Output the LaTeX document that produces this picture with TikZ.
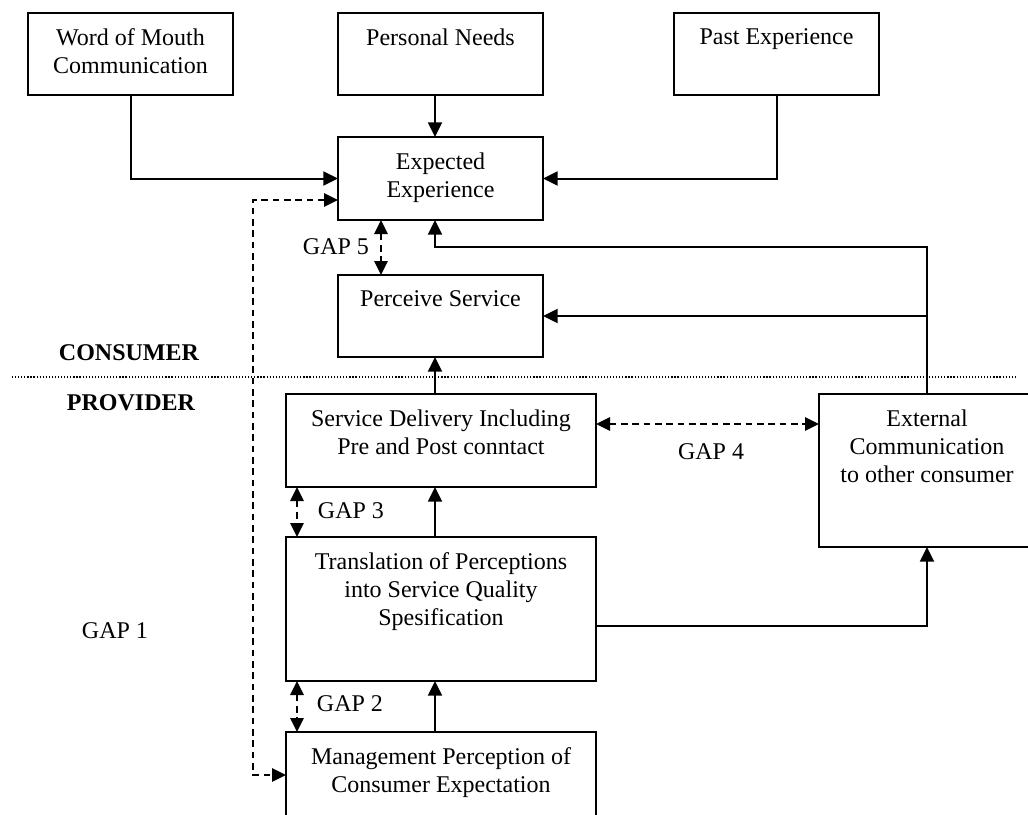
\documentclass[tikz,border=0pt]{standalone}
\usepackage{fontspec}
\setmainfont{Liberation Serif}
\usetikzlibrary{arrows.meta}
\begin{document}
\begin{tikzpicture}[x=0.75pt,y=-0.75pt,
  box/.style={draw, line width=1.4pt, inner sep=0pt, outer sep=0pt},
  txt/.style={font=\fontsize{18}{21}\selectfont, align=center, inner sep=0pt},
  blabel/.style={label={[txt,anchor=north,yshift=-11.6pt]north:#1}},
  arr/.style={line width=1.5pt, -{Triangle[length=11pt,width=10.5pt]}},
  dsh/.style={line width=1.5pt, dash pattern=on 5pt off 3.5pt},
  tiptwo/.style={{Triangle[length=10.5pt,width=10pt]}-{Triangle[length=10.5pt,width=10pt]}},
  dotline/.style={line width=0.9pt, dash pattern=on 0.9pt off 1.4pt},
  head/.style={font=\fontsize{18}{21}\selectfont\bfseries, inner sep=0pt, anchor=base},
  gap/.style={font=\fontsize{18}{21}\selectfont, inner sep=0pt, anchor=base}]
\useasboundingbox (0,0) rectangle (1028,814);
\clip (0,0) rectangle (1028,814);

% boxes
\node[box, minimum width=153.75pt, minimum height=61.5pt, blabel={Word of Mouth\\Communication}] (wom) at (130.5,54) {};
\node[box, minimum width=153.75pt, minimum height=61.5pt, blabel={Personal Needs}] (pn) at (440.5,54) {};
\node[box, minimum width=153.75pt, minimum height=61.5pt, blabel={Past Experience}] (pe) at (776.5,54) {};
\node[box, minimum width=153.75pt, minimum height=62.25pt, blabel={Expected\\Experience}] (ee) at (440.5,178.5) {};
\node[box, minimum width=153.75pt, minimum height=61.5pt, blabel={Perceive Service}] (ps) at (440.5,316) {};
\node[box, minimum width=232.5pt, minimum height=69.75pt, blabel={Service Delivery Including\\Pre and Post conntact}] (sd) at (441,440.5) {};
\node[box, minimum width=232.5pt, minimum height=108pt, blabel={Translation of Perceptions\\into Service Quality\\Spesification}] (tr) at (441,609) {};
\node[box, minimum width=232.5pt, minimum height=81pt, blabel={Management Perception of\\Consumer Expectation}] (mg) at (441,786) {};
\node[box, minimum width=162pt, minimum height=114.75pt, blabel={External\\Communication\\to other consumer}] (ext) at (927,470.5) {};

% helper coordinates
\coordinate (cx) at (435,0);
\coordinate (dl) at (253,0);
\coordinate (g5x) at (381,0);
\coordinate (g3x) at (297,0);
\coordinate (fb) at (0,247);
\coordinate (g4) at (0,424);
\coordinate (trl) at (0,626);
\coordinate (eein) at ([yshift=-16.1pt]ee.west);
\coordinate (mgin) at ([yshift=8.25pt]mg.west);

% solid connectors
\draw[arr] (wom.south) |- (ee.west);
\draw[arr] (pn.south -| cx) -- (ee.north -| cx);
\draw[arr] (pe.south) |- (ee.east);
\draw[arr] (ext.north) |- (ps.east);
\draw[arr] (ext.north) -- (ext.north |- fb) -- (cx |- fb) -- (ee.south -| cx);
\draw[arr] (sd.north -| cx) -- (ps.south -| cx);
\draw[arr] (tr.north -| cx) -- (sd.south -| cx);
\draw[arr] (mg.north -| cx) -- (tr.south -| cx);
\draw[arr] (tr.east |- trl) -| (ext.south);

% dashed gap connectors
\draw[dsh, tiptwo] (eein) -| (mgin -| dl) -- (mgin);
\draw[dsh, tiptwo] (ee.south -| g5x) -- (ps.north -| g5x);
\draw[dsh, tiptwo] (sd.south -| g3x) -- (tr.north -| g3x);
\draw[dsh, tiptwo] (tr.south -| g3x) -- (mg.north -| g3x);
\draw[dsh, tiptwo] (sd.east |- g4) -- (ext.west |- g4);

% divider
\draw[dotline] (12,377) -- (1017,377);

% labels
\node[head] (cons) at (129,360) {CONSUMER};
\node[head] (prov) at (131,410) {PROVIDER};
\node[gap] (l5) at (336,254) {GAP 5};
\node[gap] (l4) at (711,459) {GAP 4};
\node[gap] (l3) at (351,518) {GAP 3};
\node[gap] (l2) at (350,711) {GAP 2};
\node[gap] (l1) at (115,638) {GAP 1};
\end{tikzpicture}
\end{document}
